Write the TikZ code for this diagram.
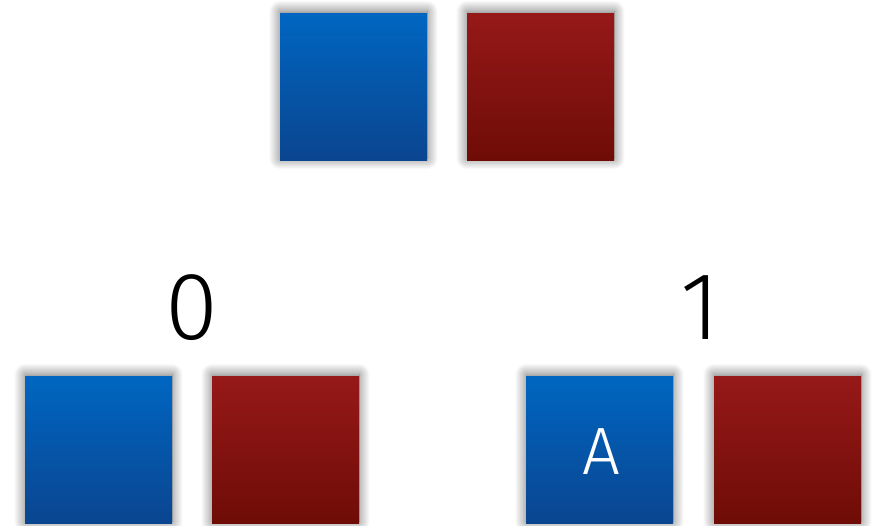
\documentclass[tikz,border=0pt]{standalone}
\usepackage{fontspec}
\setmainfont{Fira Sans}[UprightFont={* Light}]
\usetikzlibrary{shadows.blur}
\definecolor{bluetop}{HTML}{0066C1}
\definecolor{bluebot}{HTML}{0A4590}
\definecolor{redtop}{HTML}{961919}
\definecolor{redbot}{HTML}{6F0C06}
\tikzset{
  sq/.style={minimum width=147pt, minimum height=147pt, inner sep=0pt, outer sep=0pt, anchor=north west,
    blur shadow={shadow xshift=0pt, shadow yshift=1.5pt, shadow blur radius=11pt, shadow opacity=60, shadow blur steps=14}},
  bluesq/.style={sq, top color=bluetop, bottom color=bluebot},
  redsq/.style={sq, top color=redtop, bottom color=redbot},
  digit/.style={font=\fontsize{96}{96}\selectfont, inner sep=0pt},
  letter/.style={font=\fontsize{67}{67}\selectfont, text=white, inner sep=0pt}
}
\begin{document}
\begin{tikzpicture}[x=1pt,y=-1pt]
\useasboundingbox (0,0) rectangle (880,525);
\node[bluesq] (tb) at (280,13) {};
\node[redsq] (tr) at (467,13) {};
\node[bluesq] (lb) at (25,376) {};
\node[redsq] (lr) at (212,376) {};
\node[bluesq] (rb) at (526,376) {};
\node[redsq] (rr) at (714,376) {};
\node[digit, anchor=base] (d0) at (192,339) {0};
\node[digit, anchor=base] (d1) at (700,339) {1};
\node[letter, anchor=base] (a) at (601,474) {A};
\end{tikzpicture}
\end{document}
